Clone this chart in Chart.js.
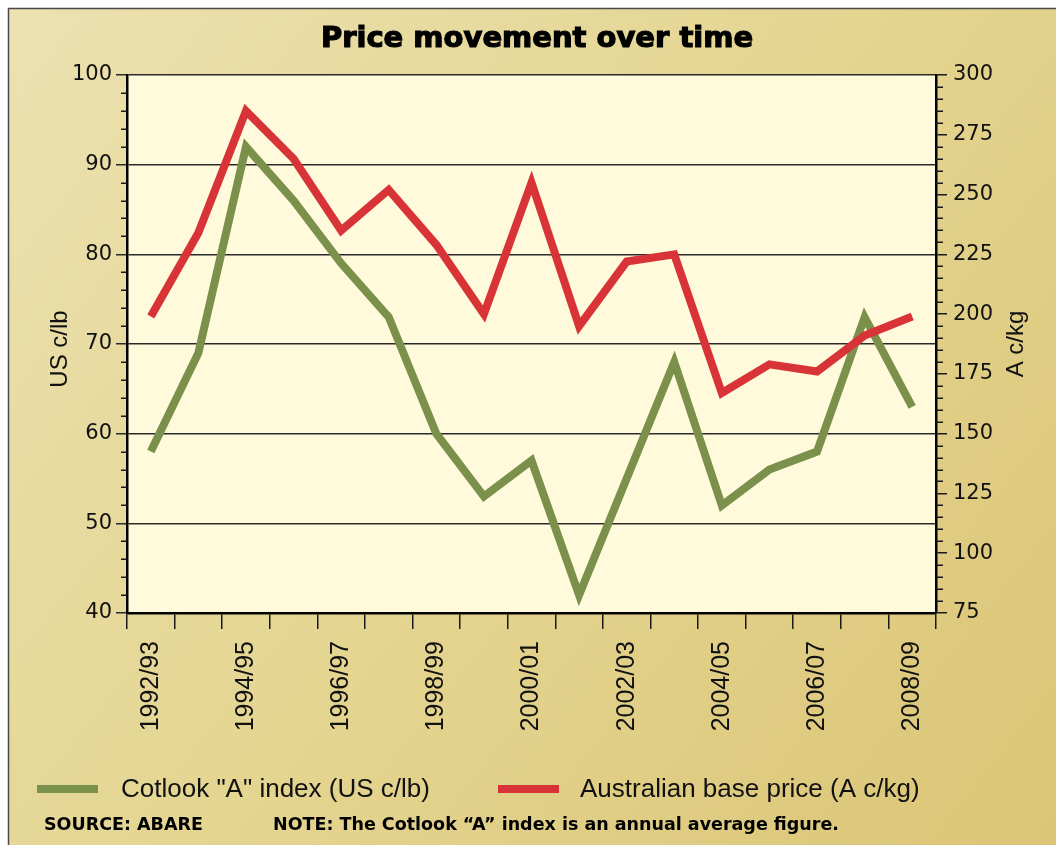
<!DOCTYPE html>
<html><head><meta charset="utf-8">
<script src="https://cdn.jsdelivr.net/npm/chart.js@4.4.1/dist/chart.umd.min.js"></script>
<style>html,body{margin:0;padding:0;background:#fff;}canvas{display:block;}</style>
</head><body>
<canvas id="c" width="1056" height="845"></canvas>
<script>
// ---- data ----
const seasons = ['1992/93','1993/94','1994/95','1995/96','1996/97','1997/98','1998/99','1999/00','2000/01','2001/02','2002/03','2003/04','2004/05','2005/06','2006/07','2007/08','2008/09'];
const cotlookIndex = [58, 69, 92, 86, 79, 73, 60, 53, 57, 42, 55, 68, 52, 56, 58, 73, 63];      // US c/lb
const australianPrice = [199, 234, 285, 265, 235, 252, 229, 200, 255, 195, 222, 225, 167, 179, 176, 191, 199]; // A c/kg
const leftRange = [40, 100];   // major step 10, minor step 2
const rightRange = [75, 300];  // major step 25, minor step 5
const leftSteps = [10, 2];
const rightSteps = [25, 5];
const titleText = 'Price movement over time';
const leftTitle = 'US c/lb';
const rightTitle = 'A c/kg';
const sourceText = 'SOURCE: ABARE';
const noteText = 'NOTE: The Cotlook \u201CA\u201D index is an annual average figure.';

const GREEN = '#7b904b', RED = '#d83437', INK = '#1a1a1a';

const bgPlugin = {
  id: 'bg',
  beforeDraw(chart) {
    const ctx = chart.ctx, W = chart.width, H = chart.height, a = chart.chartArea;
    ctx.save();
    ctx.fillStyle = '#ffffff';
    ctx.fillRect(0, 0, W, H);
    const g = ctx.createLinearGradient(0, 0, W, H);
    g.addColorStop(0, '#ece1b1');
    g.addColorStop(0.5, '#e4d591');
    g.addColorStop(1, '#dbc576');
    ctx.fillStyle = g;
    ctx.fillRect(8, 8, W - 8, H - 8);
    ctx.strokeStyle = '#4a4a4a';
    ctx.lineWidth = 1.5;
    ctx.beginPath();
    ctx.moveTo(8.5, H); ctx.lineTo(8.5, 8.5); ctx.lineTo(W, 8.5);
    ctx.stroke();
    ctx.fillStyle = '#fffadc';
    ctx.fillRect(a.left, a.top, a.right - a.left, a.bottom - a.top);
    ctx.restore();
  }
};

const decoPlugin = {
  id: 'deco',
  afterDraw(chart) {
    const ctx = chart.ctx, a = chart.chartArea;
    const yl = chart.scales.y, yr = chart.scales.y2;
    ctx.save();
    // minor ticks
    ctx.strokeStyle = INK; ctx.lineWidth = 1.5;
    ctx.beginPath();
    for (let v = leftRange[0]; v <= leftRange[1]; v += leftSteps[1]) {
      if (v % leftSteps[0] === 0) continue;
      const p = Math.round(yl.getPixelForValue(v)) + 0.25;
      ctx.moveTo(a.left - 6, p); ctx.lineTo(a.left, p);
    }
    for (let v = rightRange[0]; v <= rightRange[1]; v += rightSteps[1]) {
      if (v % rightSteps[0] === 0) continue;
      const p = Math.round(yr.getPixelForValue(v)) + 0.25;
      ctx.moveTo(a.right, p); ctx.lineTo(a.right + 7, p);
    }
    ctx.stroke();

    // title
    ctx.fillStyle = '#000'; ctx.strokeStyle = '#000'; ctx.lineWidth = 1.2;
    ctx.font = 'bold 29px "DejaVu Sans"';
    ctx.textAlign = 'center'; ctx.textBaseline = 'middle';
    ctx.fillText(titleText, 537, 39);
    ctx.strokeText(titleText, 537, 39);

    // axis titles (both read bottom-to-top)
    ctx.font = '24px "Liberation Sans"';
    ctx.fillStyle = '#111';
    ctx.save(); ctx.translate(60, 349); ctx.rotate(-Math.PI / 2);
    ctx.fillText(leftTitle, 0, 0); ctx.restore();
    ctx.save(); ctx.translate(1016, 344); ctx.rotate(-Math.PI / 2);
    ctx.fillText(rightTitle, 0, 0); ctx.restore();

    // legend
    const order = [0, 1];
    const legendPos = [[37, 121], [498, 580]];
    ctx.font = '26px "Liberation Sans"';
    ctx.textAlign = 'left';
    order.forEach((di, k) => {
      const ds = chart.data.datasets[di];
      ctx.fillStyle = ds.borderColor;
      ctx.fillRect(legendPos[k][0], 785, 61, 8);
      ctx.fillStyle = '#111';
      ctx.fillText(ds.label, legendPos[k][1], 790);
    });

    // footer
    ctx.font = 'bold 17.5px "DejaVu Sans"';
    ctx.fillStyle = '#000';
    ctx.fillText(sourceText, 44, 825);
    ctx.fillText(noteText, 273, 825);
    ctx.restore();
  }
};

new Chart(document.getElementById('c'), {
  type: 'line',
  data: {
    labels: seasons,
    datasets: [
      { label: 'Cotlook "A" index (US c/lb)', data: cotlookIndex, yAxisID: 'y', borderColor: GREEN, backgroundColor: GREEN, order: 1 },
      { label: 'Australian base price (A c/kg)', data: australianPrice, yAxisID: 'y2', borderColor: RED, backgroundColor: RED, order: 0 }
    ]
  },
  options: {
    responsive: false,
    devicePixelRatio: 1,
    animation: false,
    layout: { padding: { top: 75, left: 0, right: 0, bottom: 0 } },
    elements: {
      line: { borderWidth: 8, tension: 0, borderJoinStyle: 'miter', borderCapStyle: 'butt', fill: false },
      point: { radius: 0, hoverRadius: 0 }
    },
    plugins: { legend: { display: false }, title: { display: false }, tooltip: { enabled: false } },
    scales: {
      x: {
        type: 'category',
        offset: true,
        grid: { offset: true, drawOnChartArea: false, color: INK, lineWidth: 1.5, tickLength: 16 },
        border: { display: true, color: '#000', width: 2.5 },
        ticks: {
          autoSkip: false, maxRotation: 90, minRotation: 90, padding: 12,
          color: '#111', font: { family: 'Liberation Sans', size: 25 },
          callback: (v, i) => (i % 2 === 0 ? seasons[i] : '')
        },
        afterFit: s => { s.height = 845 - 613; }
      },
      y: {
        position: 'left',
        min: leftRange[0], max: leftRange[1],
        grid: { color: '#2a2a2a', lineWidth: 1.5, tickLength: 11 },
        border: { display: true, color: '#000', width: 2.5 },
        ticks: { stepSize: leftSteps[0], padding: 4, color: '#111', font: { family: 'DejaVu Sans', size: 21 } },
        afterFit: s => { s.width = 127; }
      },
      y2: {
        position: 'right',
        min: rightRange[0], max: rightRange[1],
        grid: { drawOnChartArea: false, color: INK, lineWidth: 1.5, tickLength: 11 },
        border: { display: true, color: '#000', width: 2.5 },
        ticks: { stepSize: rightSteps[0], padding: 6, color: '#111', font: { family: 'DejaVu Sans', size: 21 } },
        afterFit: s => { s.width = 1056 - 936; }
      }
    }
  },
  plugins: [bgPlugin, decoPlugin]
});
</script>
</body></html>
